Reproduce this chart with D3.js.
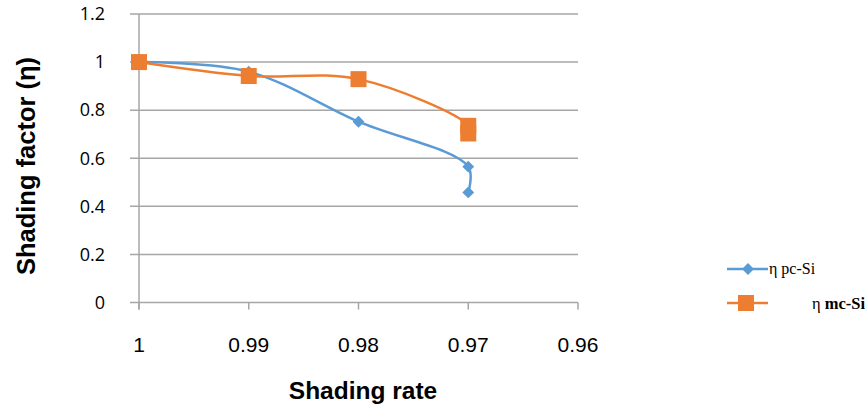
<!DOCTYPE html>
<html><head><meta charset="utf-8">
<script src="https://cdn.jsdelivr.net/npm/d3@7"></script>
<style>html,body{margin:0;padding:0;background:#fff;}</style>
</head><body>
<svg id="chart" width="865" height="410"></svg>
<script>
// ---- data ----
const xTicks = [1, 0.99, 0.98, 0.97, 0.96];
const yTicks = [0, 0.2, 0.4, 0.6, 0.8, 1, 1.2];
const rates = [1, 0.99, 0.98, 0.97, 0.97];
const pcSi = [1.0, 0.96, 0.752, 0.565, 0.458];
const mcSi = [1.0, 0.942, 0.929, 0.735, 0.703];
const seriesNames = ["η pc-Si", "η mc-Si"];

const svg = d3.select("#chart");
const x = d3.scaleLinear().domain([1, 0.96]).range([139, 578]);
const y = d3.scaleLinear().domain([0, 1.2]).range([302.5, 14]);
const grid = "#a6a6a6";
const blue = "#5B9BD5", orange = "#ED7D31";

// gridlines
svg.append("g").selectAll("line").data(yTicks).join("line")
  .attr("x1", 130).attr("x2", 578)
  .attr("y1", d => y(d)).attr("y2", d => y(d))
  .attr("stroke", grid).attr("stroke-width", 1.5);

// y axis line
svg.append("line").attr("x1", x(1)).attr("x2", x(1))
  .attr("y1", y(1.2)).attr("y2", y(0) + 7)
  .attr("stroke", grid).attr("stroke-width", 1.5);

// x tick marks
svg.append("g").selectAll("line").data(xTicks).join("line")
  .attr("x1", d => x(d)).attr("x2", d => x(d))
  .attr("y1", y(0)).attr("y2", y(0) + 7)
  .attr("stroke", grid).attr("stroke-width", 1.5);

// y tick labels
svg.append("g").selectAll("text").data(yTicks).join("text")
  .attr("x", 105).attr("y", d => y(d)).attr("dy", "0.35em")
  .attr("text-anchor", "end")
  .style("font-family", "'Open Sans', sans-serif").style("font-size", "18px")
  .attr("fill", "#000")
  .text(d => d3.format("")(d));

// x tick labels
svg.append("g").selectAll("text").data(xTicks).join("text")
  .attr("x", d => x(d)).attr("y", 352)
  .attr("text-anchor", "middle")
  .style("font-family", "'Liberation Sans', Arial, sans-serif").style("font-size", "21px")
  .attr("fill", "#000")
  .text(d => String(d));

// axis titles
svg.append("text").attr("x", 363).attr("y", 399).attr("text-anchor", "middle")
  .style("font-family", "'Liberation Sans', Arial, sans-serif").style("font-size", "24.5px")
  .style("font-weight", "bold").text("Shading rate");
svg.append("text").attr("transform", "translate(35,166) rotate(-90)")
  .attr("text-anchor", "middle")
  .style("font-family", "'Liberation Sans', Arial, sans-serif").style("font-size", "25.5px")
  .style("font-weight", "bold").text("Shading factor (η)");

// lines
const line = d3.line().x(d => x(d[0])).y(d => y(d[1])).curve(d3.curveCatmullRom.alpha(0.5));
const pcPts = rates.map((r, i) => [r, pcSi[i]]);
const mcPts = rates.map((r, i) => [r, mcSi[i]]);

svg.append("path").datum(pcPts).attr("d", line).attr("fill", "none")
  .attr("stroke", blue).attr("stroke-width", 2.5);
svg.append("g").selectAll("path").data(pcPts).join("path")
  .attr("d", d3.symbol(d3.symbolDiamond2, 90))
  .attr("transform", d => `translate(${x(d[0])},${y(d[1])})`)
  .attr("fill", blue);

svg.append("path").datum(mcPts).attr("d", line).attr("fill", "none")
  .attr("stroke", orange).attr("stroke-width", 2.5);
svg.append("g").selectAll("rect").data(mcPts).join("rect")
  .attr("x", d => x(d[0]) - 8).attr("y", d => y(d[1]) - 8)
  .attr("width", 16).attr("height", 16)
  .attr("fill", orange);

// legend
const lg = svg.append("g");
lg.append("line").attr("x1", 727).attr("x2", 768).attr("y1", 269).attr("y2", 269)
  .attr("stroke", blue).attr("stroke-width", 2.5);
lg.append("path").attr("d", d3.symbol(d3.symbolDiamond2, 90))
  .attr("transform", "translate(748,269)").attr("fill", blue);
lg.append("text").attr("x", 769).attr("y", 274)
  .style("font-family", "'Liberation Serif', 'Times New Roman', serif").style("font-size", "16px")
  .text(seriesNames[0]);

lg.append("line").attr("x1", 727).attr("x2", 768).attr("y1", 303).attr("y2", 303)
  .attr("stroke", orange).attr("stroke-width", 2.5);
lg.append("rect").attr("x", 738).attr("y", 295).attr("width", 16).attr("height", 16)
  .attr("fill", orange);
const t2 = lg.append("text").attr("x", 812).attr("y", 309)
  .style("font-family", "'Liberation Serif', 'Times New Roman', serif").style("font-size", "16.5px");
t2.append("tspan").text(seriesNames[1].split(" ")[0] + " ");
t2.append("tspan").style("font-weight", "bold").text(seriesNames[1].split(" ")[1]);
</script>
</body></html>
